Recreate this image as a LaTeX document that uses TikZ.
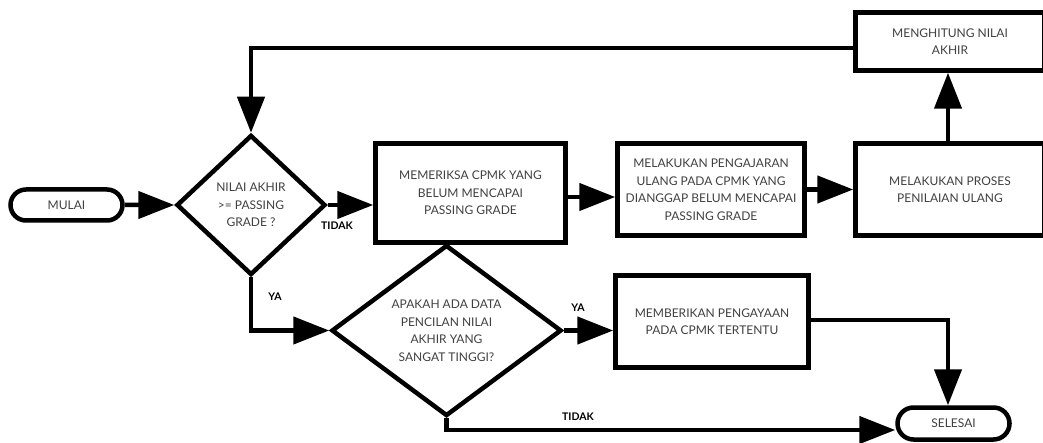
\documentclass[tikz,border=0pt]{standalone}
\usepackage{fontspec}
\setmainfont{Lato}
\usetikzlibrary{arrows.meta, positioning, shapes.geometric, shapes.misc}

\begin{document}
\begin{tikzpicture}[x=1pt,y=-1pt,>={Triangle[length=36pt,width=27pt]},line width=4.5pt,
    proses/.style={draw, rectangle, align=center, inner sep=0pt, text=black!75, font=\fontsize{12}{17.5}\selectfont},
    keputusan/.style={draw, diamond, align=center, inner sep=0pt, text=black!75, font=\fontsize{12}{17.5}\selectfont},
    terminal/.style={draw, rounded rectangle, inner sep=0pt, text=black!75, font=\fontsize{12}{17.5}\selectfont},
    ket/.style={font=\bfseries\fontsize{10.5}{12}\selectfont}]
    \useasboundingbox (0,0) rectangle (1043,443);
    % simpul
    \node[terminal, minimum width=112, minimum height=31] (mulai) at (66.5,205) {MULAI};
    \node[keputusan, minimum width=149, minimum height=140] (cek1) at (251,205) {NILAI AKHIR\\>= PASSING\\GRADE ?};
    \node[proses, minimum width=190, minimum height=99] (periksa) at (470.5,193) {MEMERIKSA CPMK YANG\\BELUM MENCAPAI\\PASSING GRADE};
    \node[proses, minimum width=187, minimum height=92] (ajar) at (711,189.5) {MELAKUKAN PENGAJARAN\\ULANG PADA CPMK YANG\\DIANGGAP BELUM MENCAPAI\\PASSING GRADE};
    \node[proses, minimum width=189, minimum height=92] (nilaiulang) at (950,189.5) {MELAKUKAN PROSES\\PENILAIAN ULANG};
    \node[proses, minimum width=189, minimum height=58] (hitung) at (950,41.5) {MENGHITUNG NILAI\\AKHIR};
    \node[keputusan, minimum width=230, minimum height=146] (cek2) at (446.5,330.5) {APAKAH ADA DATA\\PENCILAN NILAI\\AKHIR YANG\\SANGAT TINGGI?};
    \node[proses, minimum width=193, minimum height=92] (kaya) at (712,321.5) {MEMBERIKAN PENGAYAAN\\PADA CPMK TERTENTU};
    \node[terminal, minimum width=112, minimum height=32] (selesai) at (953.5,423.5) {SELESAI};
    % alur
    \draw[->] (mulai) -- (cek1);
    \draw[->] (cek1.east) -- (cek1.east -| periksa.west);
    \draw[->] ([yshift=-4pt]periksa.east) -- ([yshift=-4pt]periksa.east -| ajar.west);
    \draw[->] (ajar.east) -- (ajar.east -| nilaiulang.west);
    \draw[->] ([xshift=-2pt]nilaiulang.north) -- ([xshift=-2pt]hitung.south);
    \draw[->] ([yshift=-6.5pt]hitung.west) -| (cek1.north);
    \draw[->] (cek1.south) |- (cek2.west);
    \draw[->] (cek2.east) -- (cek2.east -| kaya.west);
    \draw[->] ([yshift=1.5pt]kaya.east) -| ([xshift=-5.5pt]selesai.north);
    \draw[->] (cek2.south) |- ([yshift=-6.5pt]selesai.west);
    % keterangan
    \node[ket] (tidak1) at (337,226) {TIDAK};
    \node[ket] (ya1) at (275,297) {YA};
    \node[ket] (ya2) at (578,308) {YA};
    \node[ket] (tidak2) at (578,417) {TIDAK};
\end{tikzpicture}
\end{document}
